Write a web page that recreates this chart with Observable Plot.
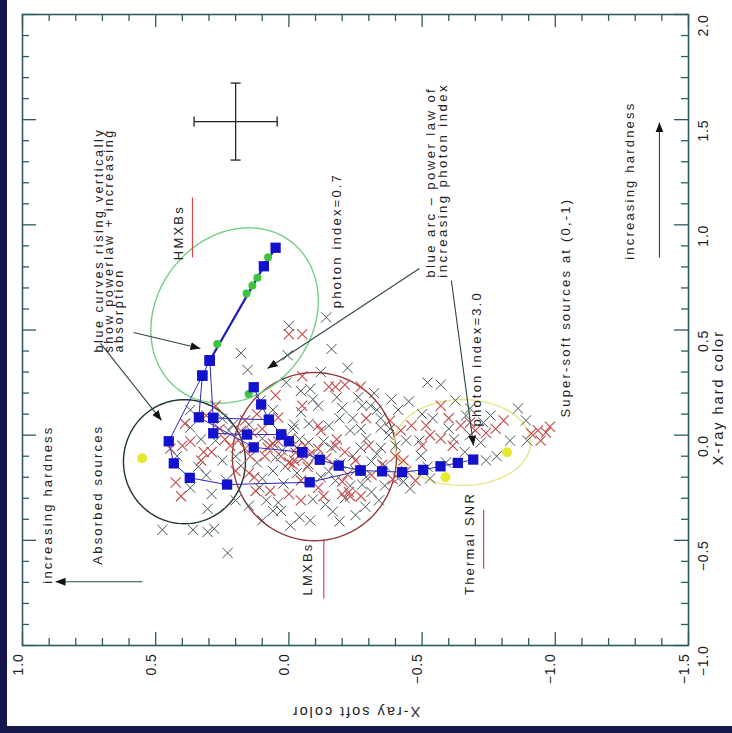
<!DOCTYPE html>
<html><head><meta charset="utf-8">
<script src="https://cdn.jsdelivr.net/npm/d3@7"></script>
<script src="https://cdn.jsdelivr.net/npm/@observablehq/plot@0.6"></script>
<style>
html,body{margin:0;padding:0;background:#fff;}
#wrap{width:732px;height:733px;box-sizing:border-box;border-left:7px solid #15174d;border-bottom:7px solid #15174d;background:#fff;overflow:hidden;}
</style></head><body><div id="wrap"></div>
<script>
// ---------- axis ticks ----------
const softTicks = [1.0, 0.5, 0.0, -0.5, -1.0, -1.5];
const softTickLabels = ["1.0", "0.5", "0.0", "\u22120.5", "\u22121.0", "\u22121.5"];
const hardTicks = [-1.0, -0.5, 0.0, 0.5, 1.0, 1.5, 2.0];
const hardTickLabels = ["\u22121.0", "\u22120.5", "0.0", "0.5", "1.0", "1.5", "2.0"];

// ---------- sources (crosses) ----------
const darkSoft = [0.18,0.155,0.0,-0.14,-0.16,0.005,-0.045,-0.385,-0.41,-0.52,-0.57,-0.86,-0.11,-0.2,-0.275,-0.045,-0.24,-0.345,-0.345,-0.075,-0.15,-0.015,0.34,0.31,0.37,0.305,0.475,0.36,0.305,0.28,0.23,0.37,0.37,0.25,0.235,0.18,0.12,0.1,0.085,0.1,0.05,0.013,-0.074,-0.13,-0.27,-0.345,-0.31,-0.074,-0.15,-0.275,-0.31,0.04,0.03,-0.09,-0.137,-0.165,-0.287,-0.21,-0.1,0.02,0.1,-0.006,-0.08,0.15,-0.23,-0.29,-0.375,-0.44,0.2,-0.175,-0.194,-0.49,-0.54,-0.6,-0.665,-0.72,-0.757,-0.83,-0.495,-0.53,-0.455,-0.59,-0.41,-0.74,-0.78,-0.625,-0.68,-0.89,-0.895,0.25,0.225,0.275,0.025,-0.25,-0.36,-0.338,-0.25,-0.307,0.106,
  -0.02,0.06,-0.09,-0.26,-0.33,-0.19,-0.04,-0.16,-0.24,-0.33,-0.29,-0.12,-0.03,0.06,0.11,0.06,-0.04,-0.19,-0.23,-0.36,-0.40,0.20,0.21,0.15,0.33,0.42,0.29,-0.62,-0.68,-0.66,-0.50,-0.45,-0.73,-0.52,0.01,-0.12,-0.22,
  -0.32,-0.38,-0.27,-0.08,-0.18,-0.43];
const darkHard = [0.39,0.31,0.52,0.56,0.41,0.38,0.21,0.17,0.12,0.25,0.24,0.127,0.14,0.13,0.14,0.11,0.08,0.08,0.036,0.055,0.045,0.03,-0.15,-0.19,-0.25,-0.35,-0.45,-0.45,-0.46,-0.445,-0.56,0.036,0.12,-0.12,-0.215,-0.145,-0.13,-0.206,-0.31,-0.016,-0.107,-0.15,-0.035,-0.03,-0.06,-0.06,-0.125,-0.14,-0.173,-0.235,-0.27,-0.32,-0.36,-0.305,-0.33,-0.363,-0.34,-0.3,-0.1,-0.23,-0.405,-0.43,-0.405,-0.335,0.022,-0.016,0.0,-0.025,-0.31,-0.216,-0.135,-0.026,0.08,0.03,0.093,-0.035,0.093,-0.026,-0.098,-0.206,-0.254,-0.13,-0.206,-0.12,-0.1,0.165,0.127,0.07,-0.026,0.079,0.022,-0.026,-0.073,-0.168,-0.145,-0.31,-0.38,0.14,0.165,
  0.05,0.12,0.17,0.18,0.12,0.08,-0.02,-0.06,-0.10,-0.09,-0.20,-0.20,-0.18,-0.17,-0.25,-0.36,-0.39,-0.41,-0.24,-0.24,-0.05,-0.10,0.05,0.05,-0.02,-0.10,-0.28,-0.02,0.00,-0.08,0.10,0.16,0.06,-0.15,0.25,0.30,0.32,
  0.20,0.03,0.03,0.22,0.18,-0.22];
const redSoft = [0.0,-0.05,-0.15,-0.175,-0.21,-0.05,-0.29,-0.11,0.04,0.1,0.165,0.12,0.37,0.32,0.29,0.425,0.405,0.39,0.445,0.22,0.19,0.165,0.145,0.15,0.125,0.07,-0.013,0.04,-0.18,-0.21,-0.22,-0.39,0.0,-0.225,-0.045,-0.11,-0.025,-0.05,0.07,0.18,0.137,-0.4,-0.25,-0.12,-0.46,-0.515,-0.57,-0.615,-0.645,-0.7,-0.776,-0.806,-0.44,-0.475,-0.57,-0.91,-0.935,-0.965,-0.945,-0.98,0.275,0.31,-0.11,-0.14,-0.175,-0.006,-0.31,-0.045,-0.38,-0.42,0.05,-0.02,0.0,-0.2,-0.23,0.06,0.08,-0.06,
  0.03,-0.03,-0.08,-0.07,-0.17,-0.20,-0.27,-0.30,0.09,0.20,0.24,0.26,0.13,-0.13,-0.35,-0.53,-0.60,-0.68,-0.74,-0.50,-0.43,0.33,0.40,-0.05,-0.27];
const redHard = [0.48,0.48,0.23,0.23,0.24,0.14,0.08,0.045,0.084,0.03,0.07,0.1,-0.03,-0.08,-0.08,-0.225,-0.29,0.055,-0.064,-0.05,-0.025,-0.064,-0.1,-0.18,-0.265,-0.05,-0.14,-0.03,-0.02,-0.08,-0.187,-0.21,-0.28,-0.27,-0.216,-0.25,-0.083,-0.11,-0.265,0.02,0.012,-0.1,-0.12,0.022,0.046,0.046,-0.016,-0.05,0.046,0.022,0.03,0.07,-0.17,-0.216,0.14,0.008,0.022,0.012,-0.026,0.04,0.14,0.093,-0.064,-0.11,-0.05,-0.016,-0.19,-0.31,0.07,0.022,0.19,-0.12,-0.13,-0.28,-0.29,-0.04,-0.06,-0.05,
  -0.10,-0.06,-0.09,-0.15,-0.14,-0.22,-0.29,-0.05,-0.10,-0.17,-0.02,0.03,-0.20,-0.29,-0.14,0.00,0.08,0.06,0.01,-0.05,-0.12,-0.12,-0.05,0.28,0.23];

// ---------- model tracks (blue squares) ----------
const arcSoft = [0.132,0.104,0.075,0.029,0.000,-0.050,-0.116,-0.187,-0.269,-0.350,-0.425,-0.504,-0.569,-0.634,-0.692];
const arcHard = [0.228,0.146,0.073,0.003,-0.029,-0.081,-0.117,-0.145,-0.168,-0.172,-0.176,-0.165,-0.148,-0.132,-0.116];
const t1Soft = [0.075,0.284,0.297], t1Hard = [0.073,0.082,0.355];
const t2Soft = [0.029,0.157,0.284,0.284], t2Hard = [0.003,0.003,0.009,0.082];
const t3Soft = [-0.050,0.132,0.338,0.325,0.297], t3Hard = [-0.081,-0.058,0.085,0.283,0.355];
const t4Soft = [-0.269,-0.078,0.232,0.372,0.432,0.451,0.325], t4Hard = [-0.168,-0.224,-0.235,-0.203,-0.134,-0.029,0.283];
const hmxbSoft = [0.297,0.094,0.050], hmxbHard = [0.355,0.803,0.891];

const greenSoft = [0.078,0.118,0.137,0.159,0.269,0.151];
const greenHard = [0.846,0.749,0.711,0.673,0.434,0.196];
const yellowSoft = [0.551,-0.819,-0.588];
const yellowHard = [-0.110,-0.081,-0.200];

// ---------- regions (ellipses: centre + two semi-axis vectors) ----------
const regionName = ["Absorbed", "LMXB", "SNR", "HMXB"];
const regionSoft = [0.392,-0.096,-0.652,0.204];
const regionHard = [-0.126,-0.102,-0.035,0.569];
const regionUSoft = [0.229,0.308,0.255,-0.212], regionUHard = [0,0,0,0.351];
const regionVSoft = [0,0,0,-0.232], regionVHard = [0.295,0.400,0.204,-0.225];

// ---------- error bar ----------
const errSoft = [0.20], errHard = [1.491], errSoftHalf = [0.156], errHardHalf = [0.183];

// ---------- annotations ----------
const noteText = ["HMXBs","photon index=0.7","photon index=3.0","Super-soft sources at (0,-1)","increasing hardness","increasing hardness","Absorbed sources","LMXBs","Thermal SNR"];
const noteSoft = [0.414,-0.179,-0.704,-1.040,-1.278,0.906,0.718,-0.070,-0.678];
const noteHard = [0.963,0.925,0.363,0.606,1.210,-0.330,-0.283,-0.636,-0.515];
const blockText = ["blue curves rising vertically\nshow powerlaw + increasing\nabsorption", "blue arc \u2013 power law of\nincreasing photon index"];
const blockSoft = [0.672,-0.555];
const blockHard = [0.393,0.749];
const underSoft = [0.362,-0.131,-0.731], underHard1 = [1.130,-0.497,-0.354], underHard2 = [0.845,-0.777,-0.635];
const arrowSoft1 = [0.583,0.707,-0.490,-0.610,0.550,-1.391];
const arrowHard1 = [0.488,0.436,0.792,0.735,-0.697,0.845];
const arrowSoft2 = [0.332,0.478,0.080,-0.693,0.876,-1.391];
const arrowHard2 = [0.412,0.070,0.317,-0.050,-0.697,1.487];

// ---------- build tables ----------
const pts = (s, h) => s.map((v, i) => ({soft: v, hard: h[i]}));
const dark = pts(darkSoft, darkHard), red = pts(redSoft, redHard);
const tracks = [[arcSoft,arcHard],[t1Soft,t1Hard],[t2Soft,t2Hard],[t3Soft,t3Hard],[t4Soft,t4Hard]]
  .flatMap(([s,h],k) => pts(s,h).map(d => ({...d, k})));
const hmxb = pts(hmxbSoft, hmxbHard);
const squares = tracks.concat(hmxb);
const regionColor = {Absorbed:"#1f3535", LMXB:"#923a3a", SNR:"#e6e68c", HMXB:"#74cf86"};
const outline = regionName.flatMap((name, i) => d3.range(0, 121).map(j => {
  const t = 2 * Math.PI * j / 120;
  return {name,
    soft: regionSoft[i] + regionUSoft[i]*Math.cos(t) + regionVSoft[i]*Math.sin(t),
    hard: regionHard[i] + regionUHard[i]*Math.cos(t) + regionVHard[i]*Math.sin(t)};
}));
const notes = noteText.map((t,i) => ({t, soft: noteSoft[i], hard: noteHard[i]}));
const blocks = blockText.map((t,i) => ({t, soft: blockSoft[i], hard: blockHard[i]}));
const unders = underSoft.map((s,i) => ({soft: s, h1: underHard1[i], h2: underHard2[i]}));
const arrows = arrowSoft1.map((s,i) => ({s1: s, h1: arrowHard1[i], s2: arrowSoft2[i], h2: arrowHard2[i]}));
const errs = errSoft.map((s,i) => ({s, h: errHard[i], ds: errSoftHalf[i], dh: errHardHalf[i]}));
const softMinor = d3.range(-15, 11).map(i => i/10).filter(v => !softTicks.some(t => Math.abs(t - v) < 1e-9));
const hardMinor = d3.range(-10, 21).map(i => i/10).filter(v => !hardTicks.some(t => Math.abs(t - v) < 1e-9));

// ---------- markers ----------
function head(color) {
  const m = d3.create("svg:marker")
    .attr("viewBox", "-10 -4 10 8").attr("refX", 0).attr("refY", 0)
    .attr("markerWidth", 10).attr("markerHeight", 8)
    .attr("markerUnits", "userSpaceOnUse").attr("orient", "auto");
  m.append("path").attr("d", "M-10,-4L0,0L-10,4Z").attr("fill", "#111").attr("stroke", "none");
  return m.node();
}
function cap(color) {
  const m = d3.create("svg:marker")
    .attr("viewBox", "-2 -6 4 12").attr("refX", 0).attr("refY", 0)
    .attr("markerWidth", 4).attr("markerHeight", 12)
    .attr("markerUnits", "userSpaceOnUse").attr("orient", "auto");
  m.append("path").attr("d", "M0,-5V5").attr("stroke", color).attr("stroke-width", 1.3).attr("fill", "none");
  return m.node();
}

const W = 725, H = 726, mL = 15, mR = 44, mT = 14, mB = 81;
const fw = W - mL - mR, fh = H - mT - mB;
const frameC = "#2c5c5e", ink = "#222";
const FONT = "Liberation Sans";
const rot = {rotate: -90, fill: ink, fontFamily: FONT};

const chart = Plot.plot({
  width: W, height: H,
  marginLeft: mL, marginRight: mR, marginTop: mT, marginBottom: mB,
  x: {domain: [1.0, -1.5], axis: null},
  y: {domain: [-1.0, 2.0], axis: null},
  style: {background: "white"},
  marks: [
    // regions
    Plot.line(outline, {x: "soft", y: "hard", z: "name", stroke: d => regionColor[d.name], strokeWidth: 1.4}),
    // sources
    Plot.dot(dark, {x: "soft", y: "hard", symbol: "times", r: 4.7, stroke: "#435555", strokeWidth: 1}),
    Plot.dot(red, {x: "soft", y: "hard", symbol: "times", r: 4.7, stroke: "#c44a4a", strokeWidth: 1.1}),
    // model tracks
    Plot.line(tracks, {x: "soft", y: "hard", z: "k", stroke: "#2a2ab8", strokeWidth: 1}),
    Plot.line(hmxb, {x: "soft", y: "hard", stroke: "#1c1cb0", strokeWidth: 2.2}),
    Plot.dot(greenSoft.map((s,i) => ({s, h: greenHard[i]})), {x: "s", y: "h", r: 4, fill: "#3cc43c"}),
    Plot.dot(squares, {x: "soft", y: "hard", symbol: "square", r: 5.8, fill: "#1212cc"}),
    Plot.dot(yellowSoft.map((s,i) => ({s, h: yellowHard[i]})), {x: "s", y: "h", r: 5, fill: "#e8e830"}),
    // arrows & underlines
    Plot.link(arrows, {x1: "s1", y1: "h1", x2: "s2", y2: "h2", stroke: "#2e4848", strokeWidth: 1.1, markerEnd: head}),
    Plot.link(unders, {x1: "soft", y1: "h1", x2: "soft", y2: "h2", stroke: "#d24848", strokeWidth: 1.2}),
    // error bar
    Plot.link(errs, {x1: d => d.s - d.ds, x2: d => d.s + d.ds, y1: "h", y2: "h", stroke: "#222", strokeWidth: 1.3, markerStart: cap, markerEnd: cap}),
    Plot.link(errs, {x1: "s", x2: "s", y1: d => d.h - d.dh, y2: d => d.h + d.dh, stroke: "#222", strokeWidth: 1.3, markerStart: cap, markerEnd: cap}),
    // annotation text
    Plot.text(notes, {x: "soft", y: "hard", text: "t", ...rot, fontSize: 13}),
    Plot.text(blocks.slice(0,1), {x: "soft", y: "hard", text: "t", ...rot, textAnchor: "start", fontSize: 12.5, lineHeight: 0.82}),
    Plot.text(blocks.slice(1), {x: "soft", y: "hard", text: "t", ...rot, textAnchor: "start", fontSize: 13.2, lineHeight: 0.9}),
    // ticks (inward, all four sides)
    Plot.tickX(softTicks, {x: d => d, stroke: frameC, strokeWidth: 1.3, insetTop: fh - 13}),
    Plot.tickX(softTicks, {x: d => d, stroke: frameC, strokeWidth: 1.3, insetBottom: fh - 13}),
    Plot.tickX(softMinor, {x: d => d, stroke: frameC, strokeWidth: 1.3, insetTop: fh - 7}),
    Plot.tickX(softMinor, {x: d => d, stroke: frameC, strokeWidth: 1.3, insetBottom: fh - 7}),
    Plot.tickY(hardTicks, {y: d => d, stroke: frameC, strokeWidth: 1.3, insetLeft: fw - 14}),
    Plot.tickY(hardTicks, {y: d => d, stroke: frameC, strokeWidth: 1.3, insetRight: fw - 14}),
    Plot.tickY(hardMinor, {y: d => d, stroke: frameC, strokeWidth: 1.3, insetLeft: fw - 7}),
    Plot.tickY(hardMinor, {y: d => d, stroke: frameC, strokeWidth: 1.3, insetRight: fw - 7}),
    Plot.frame({stroke: frameC, strokeWidth: 1.6}),
    // tick labels
    Plot.text(softTicks, {x: d => d, text: (d,i) => softTickLabels[i], frameAnchor: "bottom", dy: 8, textAnchor: "end", ...rot, fontSize: 14}),
    Plot.text(hardTicks, {y: d => d, text: (d,i) => hardTickLabels[i], frameAnchor: "right", dx: 15, ...rot, fontSize: 14}),
    // axis titles
    Plot.text(["X-ray hard color"], {text: d => d, frameAnchor: "right", dx: 30, rotate: -90, fill: ink, fontFamily: FONT, fontSize: 14.5}),
    Plot.text(["X-ray soft color"], {text: d => d, frameAnchor: "bottom", dy: 61, rotate: 180, fill: ink, fontFamily: FONT, fontSize: 14.5})
  ]
});

const spacing = {"14": "0.8px", "14.5": "2px", "13": "2.2px", "12.5": "2.6px", "13.2": "2.4px"};
d3.select(chart).selectAll("g[font-size]").each(function() {
  const fs = this.getAttribute("font-size");
  if (spacing[fs]) this.style.letterSpacing = spacing[fs];
});
document.getElementById("wrap").appendChild(chart);
</script></body></html>
